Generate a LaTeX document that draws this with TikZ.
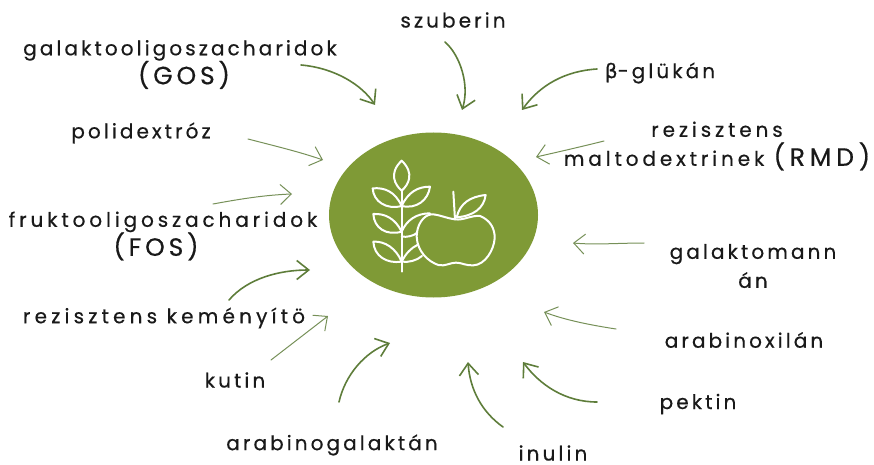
\documentclass[tikz,border=0pt]{standalone}
\usepackage{fontspec}
\setmainfont[LetterSpace=15.5,FakeBold=0.5]{Poppins}
\newfontfamily\grfont[FakeBold=0.5]{DejaVu Sans}
\newcommand{\capsize}[1]{{\fontsize{25}{29}\selectfont #1}}
\newcommand{\wider}{\addfontfeature{LetterSpace=19.5}}
\usetikzlibrary{arrows.meta,shapes.geometric}
\definecolor{leafgreen}{HTML}{7F9A36}
\definecolor{arrowgreen}{HTML}{5E7D3A}
\tikzset{
  lbl/.style={inner sep=0pt,align=center,text=black!90,font=\fontsize{20}{29}\selectfont},
  thickarrow/.style={draw=arrowgreen,line width=1.6pt,line cap=round,-{Straight Barb[length=12pt,width=19pt,line width=1.6pt]}},
  thinarrow/.style={draw=arrowgreen!85,line width=1.0pt,line cap=round,-{Straight Barb[length=11pt,width=20pt,line width=1.0pt]}},
  iconline/.style={draw=white,line width=2pt,line join=round,line cap=round}
}
\begin{document}
\begin{tikzpicture}[x=1pt,y=-1pt]
\useasboundingbox (0,0) rectangle (874,465);
\node[ellipse,draw=none,fill=leafgreen,inner sep=0pt,minimum width=209pt,minimum height=165pt] (hub) at (433.5,215) {};
% icon
\begin{scope}[shift={(320,130)},x=0.3333pt,y=-0.3333pt]
\draw[iconline] (245,180) -- (245,425);
\draw[iconline] (245,182) .. controls (225,165) and (205,130) .. (245,92) .. controls (285,130) and (265,165) .. (245,182) -- cycle;
\draw[iconline] (245,228) .. controls (225,185) and (195,172) .. (158,175) .. controls (160,215) and (200,240) .. (245,228);
\draw[iconline] (245,228) .. controls (265,185) and (295,170) .. (330,170) .. controls (325,210) and (290,238) .. (245,228);
\draw[iconline] (245,305) .. controls (225,265) and (195,250) .. (160,252) .. controls (162,295) and (200,318) .. (245,305);
\draw[iconline] (245,305) .. controls (260,270) and (290,250) .. (330,250);
\draw[iconline] (245,320) .. controls (262,322) and (280,318) .. (292,308);
\draw[iconline] (245,395) .. controls (228,355) and (195,333) .. (160,335) .. controls (162,378) and (200,402) .. (245,395);
\draw[iconline] (245,395) .. controls (258,370) and (272,355) .. (292,345);
\draw[iconline] (245,395) .. controls (265,398) and (290,392) .. (306,378);
\draw[iconline] (405,268) .. controls (430,272) and (455,255) .. (480,258) .. controls (510,270) and (525,295) .. (524,325) .. controls (522,360) and (495,405) .. (460,406) .. controls (440,408) and (425,398) .. (408,398) .. controls (390,398) and (375,410) .. (355,405) .. controls (325,395) and (292,365) .. (290,320) .. controls (290,285) and (310,255) .. (335,253) .. controls (355,253) and (380,265) .. (405,268) -- cycle;
\draw[iconline] (400,185) -- (405,268);
\draw[iconline] (410,262) .. controls (420,220) and (450,200) .. (497,195) .. controls (492,235) and (460,258) .. (410,262);
\end{scope}
% labels
\node[lbl] (gos) at (180,64.5) {galaktooligoszacharidok\\\capsize{(GOS)}\hspace*{-8pt}};
\node[lbl] (szub) at (453,20) {szuberin};
\node[lbl] (glu) at (660,73) {{\grfont β}-glükán};
\node[lbl] (rmd) at (717,146) {\wider rezisztens\\\wider maltodextrinek \capsize{(RMD)}};
\node[lbl] (poli) at (141,133) {polidextróz};
\node[lbl] (fos) at (163,236) {\wider fruktooligoszacharidok\\\capsize{(FOS)}\hspace*{14pt}};
\node[lbl] (kem) at (164,318) {\addfontfeature{LetterSpace=21}rezisztens keményítö};
\node[lbl] (kut) at (235,380) {kutin};
\node[lbl] (agal) at (332,445) {arabinogalaktán};
\node[lbl] (inu) at (553,453) {inulin};
\node[lbl] (pek) at (698,404) {pektin};
\node[lbl] (axil) at (744,340) {arabinoxilán};
\node[lbl] (gman) at (753,266) {galaktomann\\án};
% arrow ends
\coordinate (a1) at (301,65);  \coordinate (b1) at (375,105);
\coordinate (a2) at (248,139); \coordinate (b2) at (323,160);
\coordinate (a3) at (213,204); \coordinate (b3) at (292,194);
\coordinate (a4) at (445,42);  \coordinate (b4) at (462,110);
\coordinate (a5) at (597,69);  \coordinate (b5) at (522,110);
\coordinate (a6) at (604,141); \coordinate (b6) at (536,157);
\coordinate (a7) at (644,243); \coordinate (b7) at (573,243);
\coordinate (a8) at (616,329); \coordinate (b8) at (544,312);
\coordinate (a9) at (597,402); \coordinate (b9) at (523,362);
\coordinate (a10) at (503,427); \coordinate (b10) at (468,362);
\coordinate (a11) at (229,300); \coordinate (b11) at (310,270);
\coordinate (a12) at (271,360); \coordinate (b12) at (328,316);
\coordinate (a13) at (339,402); \coordinate (b13) at (390,343);
\draw[thickarrow] (a1) .. controls (335,68) and (362,85) .. (b1);
\draw[thinarrow] (a2) .. controls (275,146) and (300,152) .. (b2);
\draw[thinarrow] (a3) .. controls (240,199) and (265,195) .. (b3);
\draw[thickarrow] (a4) .. controls (460,55) and (470,85) .. (b4);
\draw[thickarrow] (a5) .. controls (565,71) and (540,85) .. (b5);
\draw[thinarrow] (a6) .. controls (580,147) and (558,152) .. (b6);
\draw[thinarrow] (a7) .. controls (620,243) and (595,245) .. (b7);
\draw[thinarrow] (a8) .. controls (590,325) and (565,320) .. (b8);
\draw[thickarrow] (a9) .. controls (565,402) and (540,385) .. (b9);
\draw[thickarrow] (a10) .. controls (482,412) and (470,390) .. (b10);
\draw[thickarrow] (a11) .. controls (248,278) and (280,270) .. (b11);
\draw[thinarrow] (a12) -- (b12);
\draw[thickarrow] (a13) .. controls (345,375) and (365,352) .. (b13);
\end{tikzpicture}
\end{document}
